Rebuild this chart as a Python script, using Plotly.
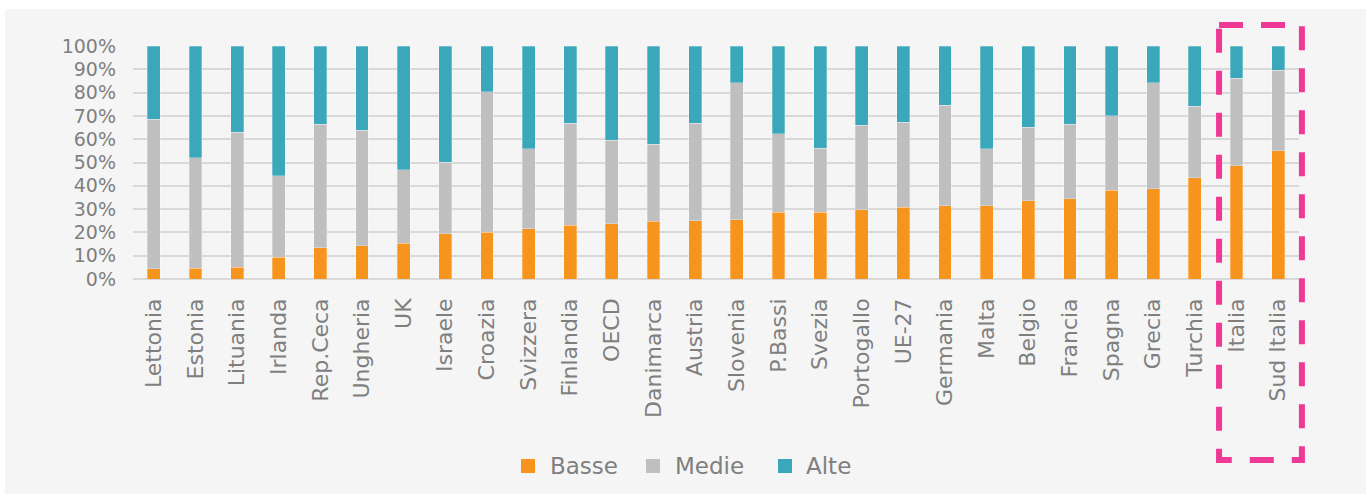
import plotly.graph_objects as go

# Quota per livello (%) – Basse / Medie / Alte
paesi = ["Lettonia", "Estonia", "Lituania", "Irlanda", "Rep.Ceca", "Ungheria", "UK",
         "Israele", "Croazia", "Svizzera", "Finlandia", "OECD", "Danimarca", "Austria",
         "Slovenia", "P.Bassi", "Svezia", "Portogallo", "UE-27", "Germania", "Malta",
         "Belgio", "Francia", "Spagna", "Grecia", "Turchia", "Italia", "Sud Italia"]

basse = [4.5, 4.7, 5.1, 9.3, 13.5, 14.3, 15.4, 19.5, 20.0, 21.5, 23.0, 23.8, 24.8, 25.0,
         25.4, 28.7, 28.7, 29.8, 30.7, 31.4, 31.5, 33.5, 34.4, 38.1, 38.8, 43.5, 48.5, 55.1]
medie = [64.0, 47.4, 57.9, 35.1, 53.0, 49.5, 31.4, 30.6, 60.3, 34.3, 43.9, 35.8, 33.0, 41.9,
         58.9, 33.6, 27.4, 36.2, 36.6, 43.1, 24.3, 31.7, 32.1, 31.9, 45.5, 30.7, 37.7, 34.5]
alte = [31.5, 47.9, 37.0, 55.6, 33.5, 36.2, 53.2, 49.9, 19.7, 44.2, 33.1, 40.4, 42.2, 33.1,
        15.7, 37.7, 43.9, 34.0, 32.7, 25.5, 44.2, 34.8, 33.5, 30.0, 15.7, 25.8, 13.8, 10.4]

serie = ["Basse", "Medie", "Alte"]
colori = ["#f7941e", "#bfbfbf", "#3aa8ba"]

y_ticks = [0, 10, 20, 30, 40, 50, 60, 70, 80, 90, 100]
y_labels = [f"{v}%" for v in y_ticks]

TXT = "#7f7f7f"
FONT = "DejaVu Sans"

W, H = 1368, 494
L, R, T, B = 133, 69, 46, 215
PW, PH = W - L - R, H - T - B


def px_x(px):
    return (px - L) / PW


def px_y(py):
    return (H - B - py) / PH


def cat_x(i):
    # posizione (in frazione dell'area del grafico) di un indice di categoria
    return (i + 0.5) / len(paesi)


fig = go.Figure()
for nome, vals, col in zip(serie, [basse, medie, alte], colori):
    fig.add_trace(go.Bar(
        x=paesi, y=vals, name=nome,
        marker=dict(color=col, line=dict(color="rgba(255,255,255,0.35)", width=0.8)),
    ))

# pannello grigio chiaro
fig.add_shape(type="rect", xref="paper", yref="paper",
              x0=px_x(5), x1=px_x(1366), y0=px_y(494), y1=px_y(9),
              fillcolor="#f5f5f5", line=dict(width=0), layer="below")

# riquadro tratteggiato su Italia / Sud Italia
fig.add_shape(type="rect", xref="paper", yref="paper",
              x0=cat_x(25.58), x1=cat_x(27.57), y0=px_y(25), y1=px_y(460),
              line=dict(color="#ee3a96", width=6, dash="24px,18px"),
              fillcolor="rgba(0,0,0,0)", layer="above")

# legenda
leg_sq = [521, 646, 778]
leg_txt = [548, 673, 804]
for nome, col, xs, xt in zip(serie, colori, leg_sq, leg_txt):
    fig.add_shape(type="rect", xref="paper", yref="paper",
                  x0=px_x(xs), x1=px_x(xs + 14), y0=px_y(473), y1=px_y(459),
                  fillcolor=col, line=dict(width=0))
    fig.add_annotation(xref="paper", yref="paper", x=px_x(xt), y=px_y(466),
                       xanchor="left", yanchor="middle", text=nome, showarrow=False,
                       font=dict(size=23, color=TXT, family=FONT))

fig.update_layout(
    width=W, height=H,
    margin=dict(l=L, r=R, t=T, b=B, autoexpand=False),
    barmode="stack", bargap=0.69,
    paper_bgcolor="white", plot_bgcolor="rgba(0,0,0,0)",
    font=dict(family=FONT, color=TXT, size=20),
    showlegend=False,
    xaxis=dict(tickangle=-90, tickfont=dict(size=22, color=TXT),
               showgrid=False, showline=False, ticks="", ticklabelstandoff=14,
               automargin=False),
    yaxis=dict(range=[0, 100], tickvals=y_ticks, ticktext=y_labels,
               tickfont=dict(size=19, color=TXT),
               showgrid=True, gridcolor="#d9d9d9", gridwidth=2,
               zeroline=True, zerolinecolor="#d9d9d9", zerolinewidth=2,
               showline=False, ticks="", ticklabelstandoff=16, automargin=False),
)

fig.write_html("out.html")
